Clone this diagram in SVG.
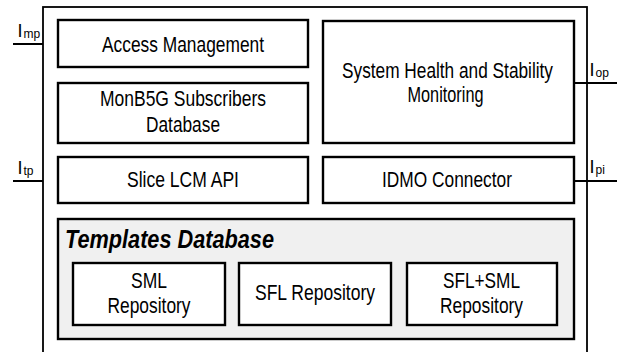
<svg xmlns="http://www.w3.org/2000/svg" width="621" height="352" viewBox="0 0 621 352">
<style>
.box{fill:#fff;stroke:#000;stroke-width:2.4}
.grp{fill:#f0f0f0;stroke:#000;stroke-width:2.4}
.outer{fill:none;stroke:#000;stroke-width:1.8}
.ln{fill:none;stroke:#000;stroke-width:2}
.t{font-family:"Liberation Sans",Arial,sans-serif;font-size:21.5px;fill:#000;text-anchor:middle}
.h{font-family:"Liberation Sans",Arial,sans-serif;font-size:25px;font-weight:bold;font-style:italic;fill:#000}
.lbl{font-family:"Liberation Sans",Arial,sans-serif;font-size:18px;fill:#000}
.sub{font-family:"Liberation Sans",Arial,sans-serif;font-size:12px;fill:#000}
</style>
<rect width="621" height="352" fill="#fff"/>
<g id="outer"><rect class="outer" x="43" y="7" width="544" height="360"/></g>
<g id="connectors">
<line class="ln" x1="13" y1="44" x2="43" y2="44"/>
<line class="ln" x1="13" y1="181" x2="43" y2="181"/>
<line class="ln" x1="574" y1="83" x2="617" y2="83"/>
<line class="ln" x1="574" y1="181" x2="617" y2="181"/>
</g>
<g id="labels">
<text class="lbl" x="17.5" y="37">I</text><text class="sub" x="23.5" y="38">mp</text>
<text class="lbl" x="17.5" y="174">I</text><text class="sub" x="23.5" y="175">tp</text>
<text class="lbl" x="589.5" y="76">I</text><text class="sub" x="595.5" y="77">op</text>
<text class="lbl" x="589.5" y="173">I</text><text class="sub" x="595.5" y="174">pi</text>
</g>
<g id="access-management">
<rect class="box" x="58" y="20" width="250" height="47"/>
<text class="t" x="183" y="51.5" textLength="162" lengthAdjust="spacingAndGlyphs">Access Management</text>
</g>
<g id="subscribers-db">
<rect class="box" x="58" y="83" width="250" height="60"/>
<text class="t" x="183" y="106" textLength="166" lengthAdjust="spacingAndGlyphs">MonB5G Subscribers</text>
<text class="t" x="183" y="131.5" textLength="74" lengthAdjust="spacingAndGlyphs">Database</text>
</g>
<g id="slice-lcm-api">
<rect class="box" x="58" y="157" width="250" height="46"/>
<text class="t" x="183" y="187" textLength="112" lengthAdjust="spacingAndGlyphs">Slice LCM API</text>
</g>
<g id="health-monitoring">
<rect class="box" x="323" y="21" width="251" height="122"/>
<text class="t" transform="translate(447.5,78) scale(0.803,1)" x="0" y="0">System Health and Stability</text>
<text class="t" x="445.5" y="102" textLength="76" lengthAdjust="spacingAndGlyphs">Monitoring</text>
</g>
<g id="idmo-connector">
<rect class="box" x="323" y="157" width="251" height="46"/>
<text class="t" x="447" y="187" textLength="130" lengthAdjust="spacingAndGlyphs">IDMO Connector</text>
</g>
<g id="templates-db">
<rect class="grp" x="58" y="219" width="516" height="120"/>
<text class="h" x="65" y="248" textLength="209" lengthAdjust="spacingAndGlyphs">Templates Database</text>
</g>
<g id="sml-repo">
<rect class="box" x="73" y="263" width="152" height="62"/>
<text class="t" x="149" y="287.5" textLength="36" lengthAdjust="spacingAndGlyphs">SML</text>
<text class="t" x="149" y="312.5" textLength="83" lengthAdjust="spacingAndGlyphs">Repository</text>
</g>
<g id="sfl-repo">
<rect class="box" x="239" y="263" width="152" height="62"/>
<text class="t" x="315" y="300" textLength="120" lengthAdjust="spacingAndGlyphs">SFL Repository</text>
</g>
<g id="sflsml-repo">
<rect class="box" x="407" y="263" width="150" height="62"/>
<text class="t" x="481.5" y="287.5" textLength="77" lengthAdjust="spacingAndGlyphs">SFL+SML</text>
<text class="t" x="481.5" y="312.5" textLength="83" lengthAdjust="spacingAndGlyphs">Repository</text>
</g>
</svg>
